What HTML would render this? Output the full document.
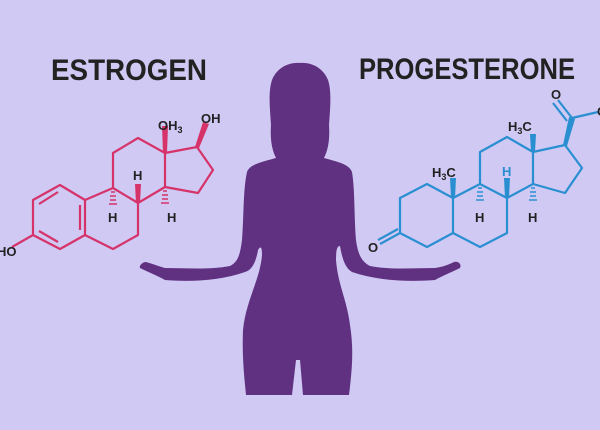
<!DOCTYPE html>
<html><head><style>
html,body{margin:0;padding:0;background:#cfc9f3;}
svg{display:block;}
text{font-family:"Liberation Sans",sans-serif;font-weight:bold;}
</style></head><body>
<svg width="600" height="430" viewBox="0 0 600 430" xmlns="http://www.w3.org/2000/svg">
<rect width="600" height="430" fill="#cfc9f3"/>
<text x="51" y="80" font-size="30" fill="#222" textLength="156" lengthAdjust="spacingAndGlyphs">ESTROGEN</text>
<text x="359" y="79" font-size="30" fill="#222" textLength="216" lengthAdjust="spacingAndGlyphs">PROGESTERONE</text>

<!-- silhouette -->
<path fill="#613181" d="M300 63 C286 62 276 70 272 80 C268 92 270 110 271 125 C270 140 272 150 276 158 C262 162 250 164 247 172 C243 190 244 215 242 240 C240 255 238 262 230 266 C210 270 185 268 165 268 C158 266 150 263 146 262 C142 262 139 266 140 268 C148 272 158 276 165 280 C190 282 220 281 245 272 C252 270 256 262 258 250 C261 245 262 248 262 255 C260 280 246 300 243 330 C242 355 244 375 246 395 L292 395 L296 360 L300 360 L303 395 L349 395 C352 370 354 350 350 325 C347 300 338 285 336 260 C336 250 337 246 340 246 C342 258 345 268 352 272 C378 281 410 282 435 280 C442 276 452 272 460 268 C462 264 458 261 454 262 C450 264 443 267 435 268 C415 268 390 270 370 266 C362 262 358 255 356 240 C354 215 355 190 352 172 C349 164 338 162 324 158 C328 150 330 140 329 125 C330 110 332 92 328 80 C324 70 314 62 300 63 Z"/>

<!-- Estrogen -->
<g stroke="#d6336a" stroke-width="2.2" fill="none" stroke-linejoin="round">
<polygon points="60,185 85,200 85,235 60,249 33,235 33,200"/>
<line x1="39" y1="204" x2="58" y2="192"/>
<line x1="80" y1="205" x2="80" y2="230"/>
<line x1="39" y1="231" x2="58" y2="242"/>
<polyline points="85,200 113,188 138,203 138,235 113,249 85,235"/>
<polyline points="113,188 113,153 138,138 165,153 165,187 138,203"/>
<polyline points="165,153 197,147 213,170 198,193 165,187"/>
<line x1="33" y1="235" x2="12" y2="247"/>
</g>
<g fill="#d6336a">
<polygon points="163,153 167,153 168,126 162,126"/>
<polygon points="195,147 199,148 209,124 203,122"/>
<polygon points="136,203 140,203 141,184 135,184"/>
</g>
<g stroke="#d6336a" stroke-width="1.5">
<line x1="111" y1="192" x2="115" y2="192"/><line x1="110" y1="196" x2="116" y2="196"/><line x1="110" y1="200" x2="116" y2="200"/><line x1="109" y1="204" x2="117" y2="204"/>
<line x1="163" y1="191" x2="167" y2="191"/><line x1="162" y1="195" x2="168" y2="195"/><line x1="162" y1="199" x2="168" y2="199"/><line x1="161" y1="203" x2="169" y2="203"/>
</g>
<g fill="#222" font-size="13">
<text x="-3" y="256">HO</text>
<text x="158" y="130">OH<tspan font-size="9" dy="3">3</tspan></text>
<text x="201" y="123">OH</text>
<text x="108" y="222">H</text>
<text x="133" y="180">H</text>
<text x="167" y="222">H</text>
</g>

<!-- Progesterone -->
<g stroke="#2a8fd0" stroke-width="2.2" fill="none" stroke-linejoin="round">
<polygon points="400,198 427,184 453,198 453,233 427,247 400,233"/>
<polyline points="453,198 480,184 507,198 507,233 480,247 453,233"/>
<polyline points="480,184 480,152 507,137 533,152 533,184 507,198"/>
<polyline points="533,152 565,145 582,168 565,193 533,184"/>
<line x1="400" y1="233" x2="380" y2="244"/>
<line x1="398" y1="229" x2="378" y2="240"/>
<line x1="572" y1="118" x2="598" y2="112"/>
<line x1="572" y1="118" x2="558" y2="100"/>
<line x1="567" y1="121" x2="553" y2="103"/>
</g>
<g fill="#2a8fd0">
<polygon points="563,145 567,146 575,119 569,117"/>
<polygon points="451,198 455,198 456,178 450,178"/>
<polygon points="531,152 535,152 536,134 530,134"/>
<polygon points="505,198 509,198 510,178 504,178"/>
</g>
<g stroke="#2a8fd0" stroke-width="1.5">
<line x1="478" y1="188" x2="482" y2="188"/><line x1="477" y1="192" x2="483" y2="192"/><line x1="477" y1="196" x2="483" y2="196"/><line x1="476" y1="200" x2="484" y2="200"/>
<line x1="531" y1="188" x2="535" y2="188"/><line x1="530" y1="192" x2="536" y2="192"/><line x1="530" y1="196" x2="536" y2="196"/><line x1="529" y1="200" x2="537" y2="200"/>
</g>
<g fill="#222" font-size="13">
<text x="368" y="252">O</text>
<text x="551" y="99">O</text>
<text x="597" y="116">O</text>
<text x="432" y="177">H<tspan font-size="9" dy="3">3</tspan><tspan dy="-3">C</tspan></text>
<text x="508" y="131">H<tspan font-size="9" dy="3">3</tspan><tspan dy="-3">C</tspan></text>
<text x="502" y="176" fill="#2a8fd0">H</text>
<text x="475" y="222">H</text>
<text x="528" y="222">H</text>
</g>
</svg>
</body></html>
